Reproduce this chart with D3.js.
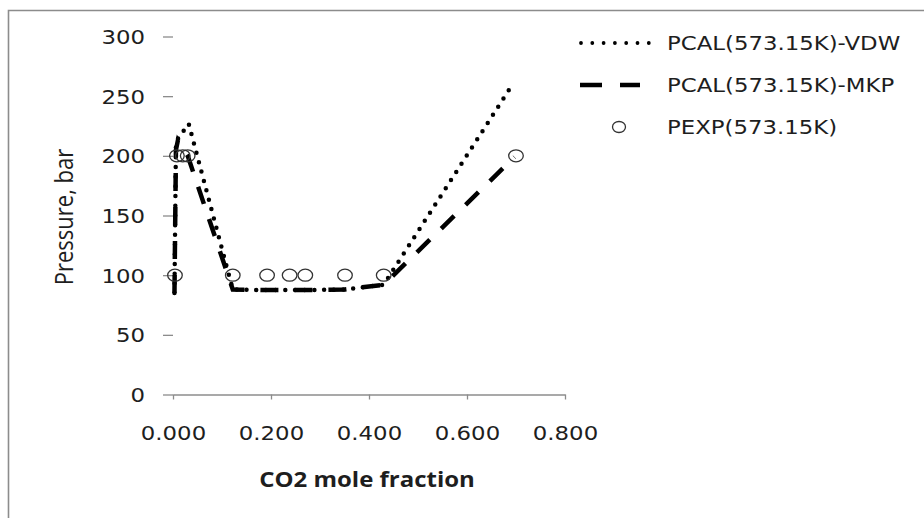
<!DOCTYPE html>
<html>
<head>
<meta charset="utf-8">
<script src="https://cdn.jsdelivr.net/npm/d3@7"></script>
<style>
  body { margin: 0; background: #fff; }
  svg { display: block; }
</style>
</head>
<body>
<div id="chart"></div>
<script>
// experimental points
const expX = [0.004, 0.008, 0.020, 0.030, 0.122, 0.192, 0.238, 0.270, 0.351, 0.430, 0.700];
const expP = [100, 200, 200, 200, 100, 100, 100, 100, 100, 100, 200];

// calculated curves
const vdwX = [0.003, 0.006, 0.032, 0.122, 0.192, 0.238, 0.270, 0.351, 0.430, 0.690];
const vdwP = [85, 212, 227, 88, 87.5, 87.5, 87.5, 88, 92, 258];

const mkpX = [0.003, 0.006, 0.010, 0.030, 0.122, 0.192, 0.238, 0.270, 0.351, 0.430, 0.697];
const mkpP = [85, 205, 213, 200, 88, 87.5, 87.5, 87.5, 88, 92, 199];

const xTicks = [0, 0.2, 0.4, 0.6, 0.8];
const yTicks = [0, 50, 100, 150, 200, 250, 300];
const legendNames = ["PCAL(573.15K)-VDW", "PCAL(573.15K)-MKP", "PEXP(573.15K)"];

const W = 924, H = 518;
const stretch = 1.17; // source picture is slightly widened
const grey = "#8c8c8c";
const ink = "#1e1e1e";

const svg = d3.select("#chart").append("svg")
    .attr("width", W)
    .attr("height", H);

// outer frame
svg.append("path")
    .attr("d", `M8.5,${H} V10.5 H${W}`)
    .attr("fill", "none")
    .attr("stroke", grey)
    .attr("stroke-width", 1.6);

const x = d3.scaleLinear().domain([0, 0.8]).range([173, 565]);
const y = d3.scaleLinear().domain([0, 300]).range([394.5, 36.5]);

const tickFont = g => g.selectAll("text")
    .attr("font-family", "DejaVu Sans")
    .attr("font-size", 19.5)
    .attr("fill", ink);

// y axis: ticks only, no line
const yAxis = svg.append("g")
    .attr("transform", `translate(${x(0)},0)`)
    .call(d3.axisLeft(y).tickValues(yTicks).tickSize(10).tickSizeOuter(0));
yAxis.select(".domain").remove();
yAxis.selectAll(".tick line").attr("stroke", grey).attr("stroke-width", 1.3);
yAxis.call(tickFont);
yAxis.selectAll("text")
    .attr("x", 0)
    .attr("dy", "0.36em")
    .attr("transform", `translate(-28,0) scale(${stretch},1)`);

// x axis
const xAxis = svg.append("g")
    .attr("transform", `translate(0,${y(0)})`)
    .call(d3.axisBottom(x).tickValues(xTicks).tickSize(5).tickSizeOuter(0)
        .tickFormat(d3.format(".3f")));
xAxis.select(".domain").attr("stroke", grey).attr("stroke-width", 1.6);
xAxis.selectAll(".tick line").attr("stroke", grey).attr("stroke-width", 1.3);
xAxis.call(tickFont);
xAxis.selectAll("text")
    .attr("y", 0)
    .attr("dy", "0.36em")
    .attr("transform", `translate(0,38) scale(${stretch},1)`);

// axis titles
svg.append("text")
    .attr("transform", `translate(367,480) scale(${stretch},1)`)
    .attr("text-anchor", "middle")
    .attr("dy", "0.36em")
    .attr("font-family", "Open Sans")
    .attr("font-weight", 700)
    .attr("font-size", 20.5)
    .attr("fill", ink)
    .text("CO2 mole fraction");

svg.append("text")
    .attr("transform", "translate(64,217) rotate(-90) scale(1,1.15)")
    .attr("text-anchor", "middle")
    .attr("dy", "0.36em")
    .attr("font-family", "Open Sans")
    .attr("font-size", 22)
    .attr("fill", ink)
    .text("Pressure, bar");

const line = d3.line().x(d => x(d[0])).y(d => y(d[1]));

const dotted = s => s.attr("fill", "none")
    .attr("stroke", "#000")
    .attr("stroke-width", 4.5)
    .attr("stroke-linecap", "round")
    .attr("stroke-dasharray", "0,9.7");

const dashed = s => s.attr("fill", "none")
    .attr("stroke", "#000")
    .attr("stroke-width", 4.5)
    .attr("stroke-linecap", "butt")
    .attr("stroke-dasharray", "18,16");

svg.append("path")
    .datum(d3.zip(mkpX, mkpP))
    .attr("d", line)
    .call(dashed);

svg.append("path")
    .datum(d3.zip(vdwX, vdwP))
    .attr("d", line)
    .call(dotted);

const marker = s => s.attr("rx", 7.3)
    .attr("ry", 6)
    .attr("fill", "none")
    .attr("stroke", "#333")
    .attr("stroke-width", 1.3);

svg.append("g")
    .selectAll("ellipse")
    .data(d3.zip(expX, expP))
    .join("ellipse")
    .attr("cx", d => x(d[0]))
    .attr("cy", d => y(d[1]))
    .call(marker);

// legend
const leg = svg.append("g");
const rowY = i => 43 + i * 42;

leg.append("line")
    .attr("x1", 581).attr("x2", 650)
    .attr("y1", rowY(0)).attr("y2", rowY(0))
    .call(dotted)
    .attr("stroke-width", 3.8)
    .attr("stroke-dasharray", "0,11.3");

leg.append("line")
    .attr("x1", 580).attr("x2", 640)
    .attr("y1", rowY(1)).attr("y2", rowY(1))
    .call(dashed)
    .attr("stroke-dasharray", "22,18");

leg.append("ellipse")
    .attr("cx", 619)
    .attr("cy", rowY(2))
    .call(marker)
    .attr("rx", 6.5)
    .attr("ry", 5.5);

leg.selectAll("text")
    .data(legendNames)
    .join("text")
    .attr("transform", (d, i) => `translate(667,${rowY(i)}) scale(${stretch},1)`)
    .attr("dy", "0.36em")
    .attr("font-family", "DejaVu Sans")
    .attr("font-size", 19.5)
    .attr("fill", ink)
    .text(d => d);
</script>
</body>
</html>
